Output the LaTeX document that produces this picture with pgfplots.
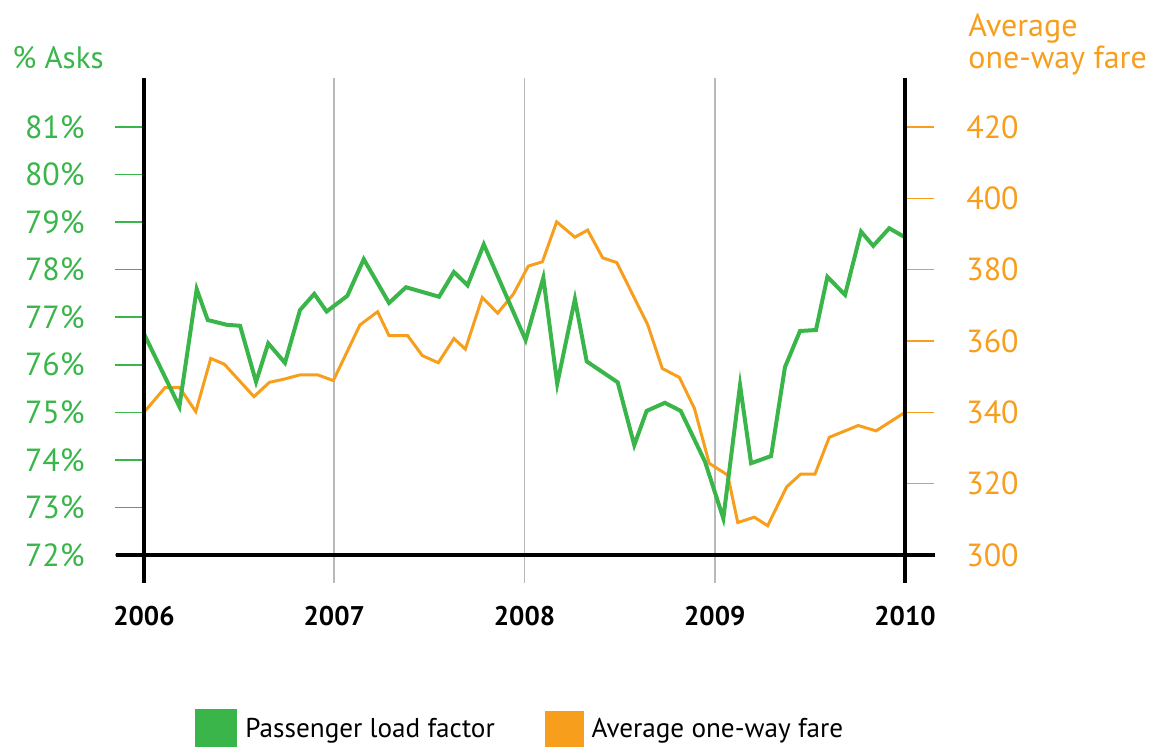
\documentclass[border=0pt]{standalone}
\usepackage{fontspec}
\setmainfont{PT Sans}
\usepackage{pgfplots}
\pgfplotsset{compat=1.18}
\definecolor{loadgreen}{RGB}{57,181,74}
\definecolor{fareorange}{RGB}{247,158,29}
\definecolor{gridgray}{RGB}{185,185,185}

\pgfplotsset{
  twin/.style={
    width=380.5pt, height=252.5pt, scale only axis,
    xmin=2006, xmax=2010, clip=false,
    axis line style={draw=none},
    tick align=outside, major tick length=14.5pt,
    yticklabel style={font=\fontsize{16}{16}\selectfont, inner xsep=0pt},
  },
}

\begin{document}
\begin{tikzpicture}
\path[use as bounding box] (-72pt,-82pt) rectangle (506.5pt,291.5pt);

% fare, right axis (drawn first, under the load factor)
\begin{axis}[twin,
  axis x line*=bottom, axis y line*=right,
  ymin=292.150, ymax=433.738,
  ytick={300,320,340,360,380,400,420},
  yticklabels={300,320,340,360,380,400,420},
  ytick style={fareorange, line width=0.8pt},
  yticklabel style={text=fareorange, xshift=16pt},
  xtick={2006,2007,2008,2009,2010},
  xticklabels={2006,2007,2008,2009,2010},
  xtick style={draw=none},
  xticklabel style={font=\bfseries\fontsize{13.5}{13.5}\selectfont, inner sep=0pt, yshift=3pt},
  xmajorgrids, grid style={gridgray, line width=0.8pt},
]
\addplot[fareorange, line width=1.5pt] coordinates {
  (2006.000,340.0) (2006.110,346.9) (2006.186,347.0) (2006.272,340.2)
  (2006.351,355.1) (2006.422,353.5) (2006.578,344.4) (2006.659,348.4)
  (2006.736,349.3) (2006.820,350.5) (2006.913,350.5) (2006.995,348.9)
  (2007.135,364.5) (2007.228,368.2) (2007.288,361.5) (2007.386,361.5)
  (2007.463,355.9) (2007.547,353.9) (2007.629,360.7) (2007.689,357.7)
  (2007.778,372.2) (2007.859,367.8) (2007.941,373.1) (2008.020,381.0)
  (2008.094,382.2) (2008.169,393.4) (2008.265,389.1) (2008.332,391.1)
  (2008.411,383.3) (2008.485,382.0) (2008.648,364.5) (2008.724,352.3)
  (2008.814,349.8) (2008.893,341.1) (2008.971,325.7) (2009.068,322.4)
  (2009.121,309.1) (2009.208,310.6) (2009.278,308.2) (2009.378,319.1)
  (2009.452,322.7) (2009.527,322.7) (2009.602,333.0) (2009.754,336.3)
  (2009.848,334.8) (2010.000,340.0)
};
\node[anchor=base west, text=fareorange, font=\fontsize{16}{16}\selectfont, inner sep=0pt]
  at (rel axis cs:1.0828,1.0822) {Average};
\node[anchor=base west, text=fareorange, font=\fontsize{16}{16}\selectfont, inner sep=0pt]
  at (rel axis cs:1.0828,1.0178) {one-way fare};
\end{axis}

% load factor, left axis
\begin{axis}[twin,
  axis x line*=bottom, axis y line*=left,
  ymin=71.4112, ymax=82.030,
  ytick={72,73,74,75,76,77,78,79,80,81},
  yticklabels={72\%,73\%,74\%,75\%,76\%,77\%,78\%,79\%,80\%,81\%},
  ytick style={loadgreen, line width=0.8pt},
  yticklabel style={text=loadgreen, xshift=-15pt},
  xtick=\empty,
  legend columns=2,
  legend cell align=left,
  legend image code/.code={\fill[#1] (0pt,-9.25pt) rectangle (19pt,9.25pt);},
  legend style={at={(0.067,-0.2901)}, anchor=west, draw=none, fill=none,
    inner sep=0pt, font=\fontsize{13.6}{13.6}\selectfont,
    nodes={inner sep=0pt},
    /tikz/every odd column/.append style={column sep=4pt},
    /tikz/every even column/.append style={column sep=25pt}},
]
\addplot[loadgreen, line width=2pt] coordinates {
  (2006.000,76.65) (2006.186,75.12) (2006.277,77.59) (2006.335,76.94)
  (2006.435,76.84) (2006.505,76.82) (2006.589,75.64) (2006.653,76.45)
  (2006.741,76.04) (2006.820,77.15) (2006.895,77.49) (2006.960,77.12)
  (2007.069,77.45) (2007.155,78.22) (2007.288,77.30) (2007.377,77.63)
  (2007.551,77.43) (2007.629,77.95) (2007.701,77.67) (2007.786,78.53)
  (2008.006,76.52) (2008.099,77.83) (2008.172,75.60) (2008.265,77.38)
  (2008.327,76.07) (2008.490,75.63) (2008.577,74.31) (2008.642,75.03)
  (2008.738,75.20) (2008.821,75.03) (2008.949,73.96) (2009.045,72.77)
  (2009.133,75.57) (2009.191,73.93) (2009.296,74.08) (2009.369,75.95)
  (2009.448,76.71) (2009.532,76.73) (2009.592,77.85) (2009.685,77.47)
  (2009.769,78.80) (2009.833,78.50) (2009.917,78.87) (2010.000,78.68)
};
\addlegendentry{Passenger load factor}
\addlegendimage{fareorange}
\addlegendentry{Average one-way fare}

% axis frame: black verticals at the ends and the base line
\draw[black, line width=1.9pt] (rel axis cs:0,0) -- (rel axis cs:0,1);
\draw[black, line width=1.9pt] (rel axis cs:1,0) -- (rel axis cs:1,1);
\draw[black, line width=1.8pt] (rel axis cs:-0.0368,0.05545) -- (rel axis cs:1.0394,0.05545);

\node[anchor=base west, text=loadgreen, font=\fontsize{15.5}{15.5}\selectfont, inner sep=0pt]
  at (rel axis cs:-0.1735,1.0178) {\% Asks};
\end{axis}
\end{tikzpicture}
\end{document}
